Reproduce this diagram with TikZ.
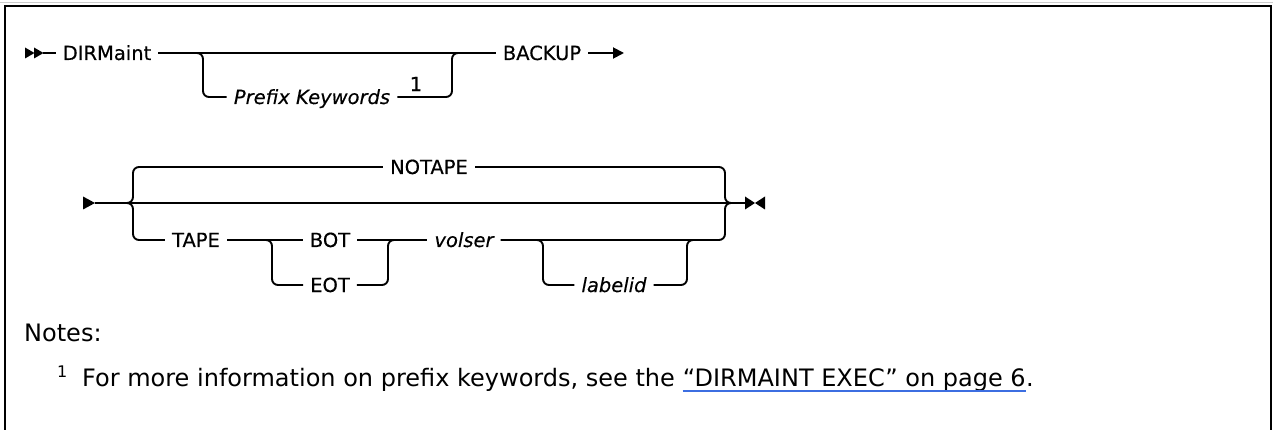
\documentclass[tikz,border=0pt]{standalone}
\usepackage{fontspec}
\setmainfont{DejaVu Sans}
\newfontfamily\railfont{DejaVu Sans}[FakeBold=0.35]
\usetikzlibrary{arrows.meta}
\definecolor{linkblue}{RGB}{60,110,225}
\tikzset{
  rail/.style={line width=1.9pt},
  rc/.style={rail, rounded corners=6pt},
  kw/.style={inner xsep=7pt, inner ysep=0pt, text height=14pt, text depth=0pt,
             anchor=center, font=\railfont\fontsize{19.5}{20}\selectfont},
  var/.style={kw, font=\railfont\fontsize{19.5}{20}\selectfont\itshape},
  note/.style={inner sep=0pt, anchor=base west, font=\fontsize{24}{28}\selectfont},
}
\begin{document}
\begin{tikzpicture}[x=1pt,y=-1pt]
\useasboundingbox (0,0) rectangle (1273,430);
% frame
\draw[gray!40, line width=1pt] (0,3) -- (1273,3);
\draw[line width=2.4pt] (5,430) -- (5,6) -- (1271,6) -- (1271,430);

% ---------- row 1 ----------
\node[kw] (dirm) at (107,53) {DIRMaint};
\node[var] (prefix) at (312,97) {Prefix Keywords};
\node[inner sep=0pt, font=\railfont\fontsize{19.5}{20}\selectfont] (one) at (416,84) {1};
\node[kw] (backup) at (542,53) {BACKUP};
\coordinate (s1) at (43,53);
\coordinate (j1) at (191,53);
\coordinate (pl) at (203,97);
\coordinate (pr) at (452,53);
\coordinate (j2) at (464,53);
\coordinate (e1) at (624,53);
\fill (25,47.5) -- (34.5,53) -- (25,58.5) -- cycle;
\fill (34,47.5) -- (43.5,53) -- (34,58.5) -- cycle;
\draw[rail] (s1) -- (dirm.west);
\draw[rail] (dirm.east) -- (backup.west);
\draw[rc] (j1) -| (pl) -- (prefix.west);
\draw[rc] (prefix.east) -| (pr) -- (j2);
\draw[rail, -{Triangle[length=11pt,width=11pt]}] (backup.east) -- (e1);

% ---------- row 2 ----------
\node[kw] (notape) at (429,167) {NOTAPE};
\node[kw] (tape) at (196,240) {TAPE};
\node[kw] (bot) at (330,240) {BOT};
\node[kw] (eot) at (330,285) {EOT};
\node[var] (volser) at (464,240) {volser};
\node[var] (labelid) at (614,285) {labelid};
\coordinate (s2) at (95,203);
\coordinate (b1) at (127,203);
\coordinate (ul) at (133,167);
\coordinate (dl) at (133,240);
\coordinate (ur) at (725,167);
\coordinate (dr) at (725,240);
\coordinate (b2) at (731,203);
\coordinate (e2) at (745,203);
\coordinate (k1) at (264,240);
\coordinate (kl) at (272,285);
\coordinate (kr) at (388,240);
\coordinate (k2) at (396,240);
\coordinate (l1) at (535,240);
\coordinate (ll) at (543,285);
\coordinate (lr) at (687,240);
\coordinate (l2) at (695,240);
\fill (83,196.5) -- (95,203) -- (83,209.5) -- cycle;
\draw[rail] (s2) -- (b1) -- (b2) -- (e2);
\draw[rc] (b1) -| (ul) -- (notape.west);
\draw[rc] (b1) -| (dl) -- (tape.west);
\draw[rc] (notape.east) -- (ur) |- (b2);
\draw[rc] (volser.east) -- (dr) |- (b2);
\draw[rail] (tape.east) -- (bot.west);
\draw[rail] (bot.east) -- (volser.west);
\draw[rc] (k1) -| (kl) -- (eot.west);
\draw[rc] (eot.east) -| (kr) -- (k2);
\draw[rc] (l1) -| (ll) -- (labelid.west);
\draw[rc] (labelid.east) -| (lr) -- (l2);
\fill (745,196.5) -- (755,203) -- (745,209.5) -- cycle;
\fill (765,196.5) -- (755,203) -- (765,209.5) -- cycle;

% ---------- notes ----------
\node[note] (notes) at (24,341) {Notes:};
\node[inner sep=0pt, anchor=base west, font=\fontsize{16}{18}\selectfont] (fnnum) at (57,377) {1};
\node[note] (fn) at (82,386) {For more information on prefix keywords, see the};
\node[note, xshift=7.6pt] (link) at (fn.base east) {“DIRMAINT EXEC” on page 6};
\node[note] (dot) at (link.base east) {.};
\draw[linkblue, line width=1.3pt] ([yshift=-5pt]link.base west) -- ([yshift=-5pt]link.base east);
\end{tikzpicture}
\end{document}
